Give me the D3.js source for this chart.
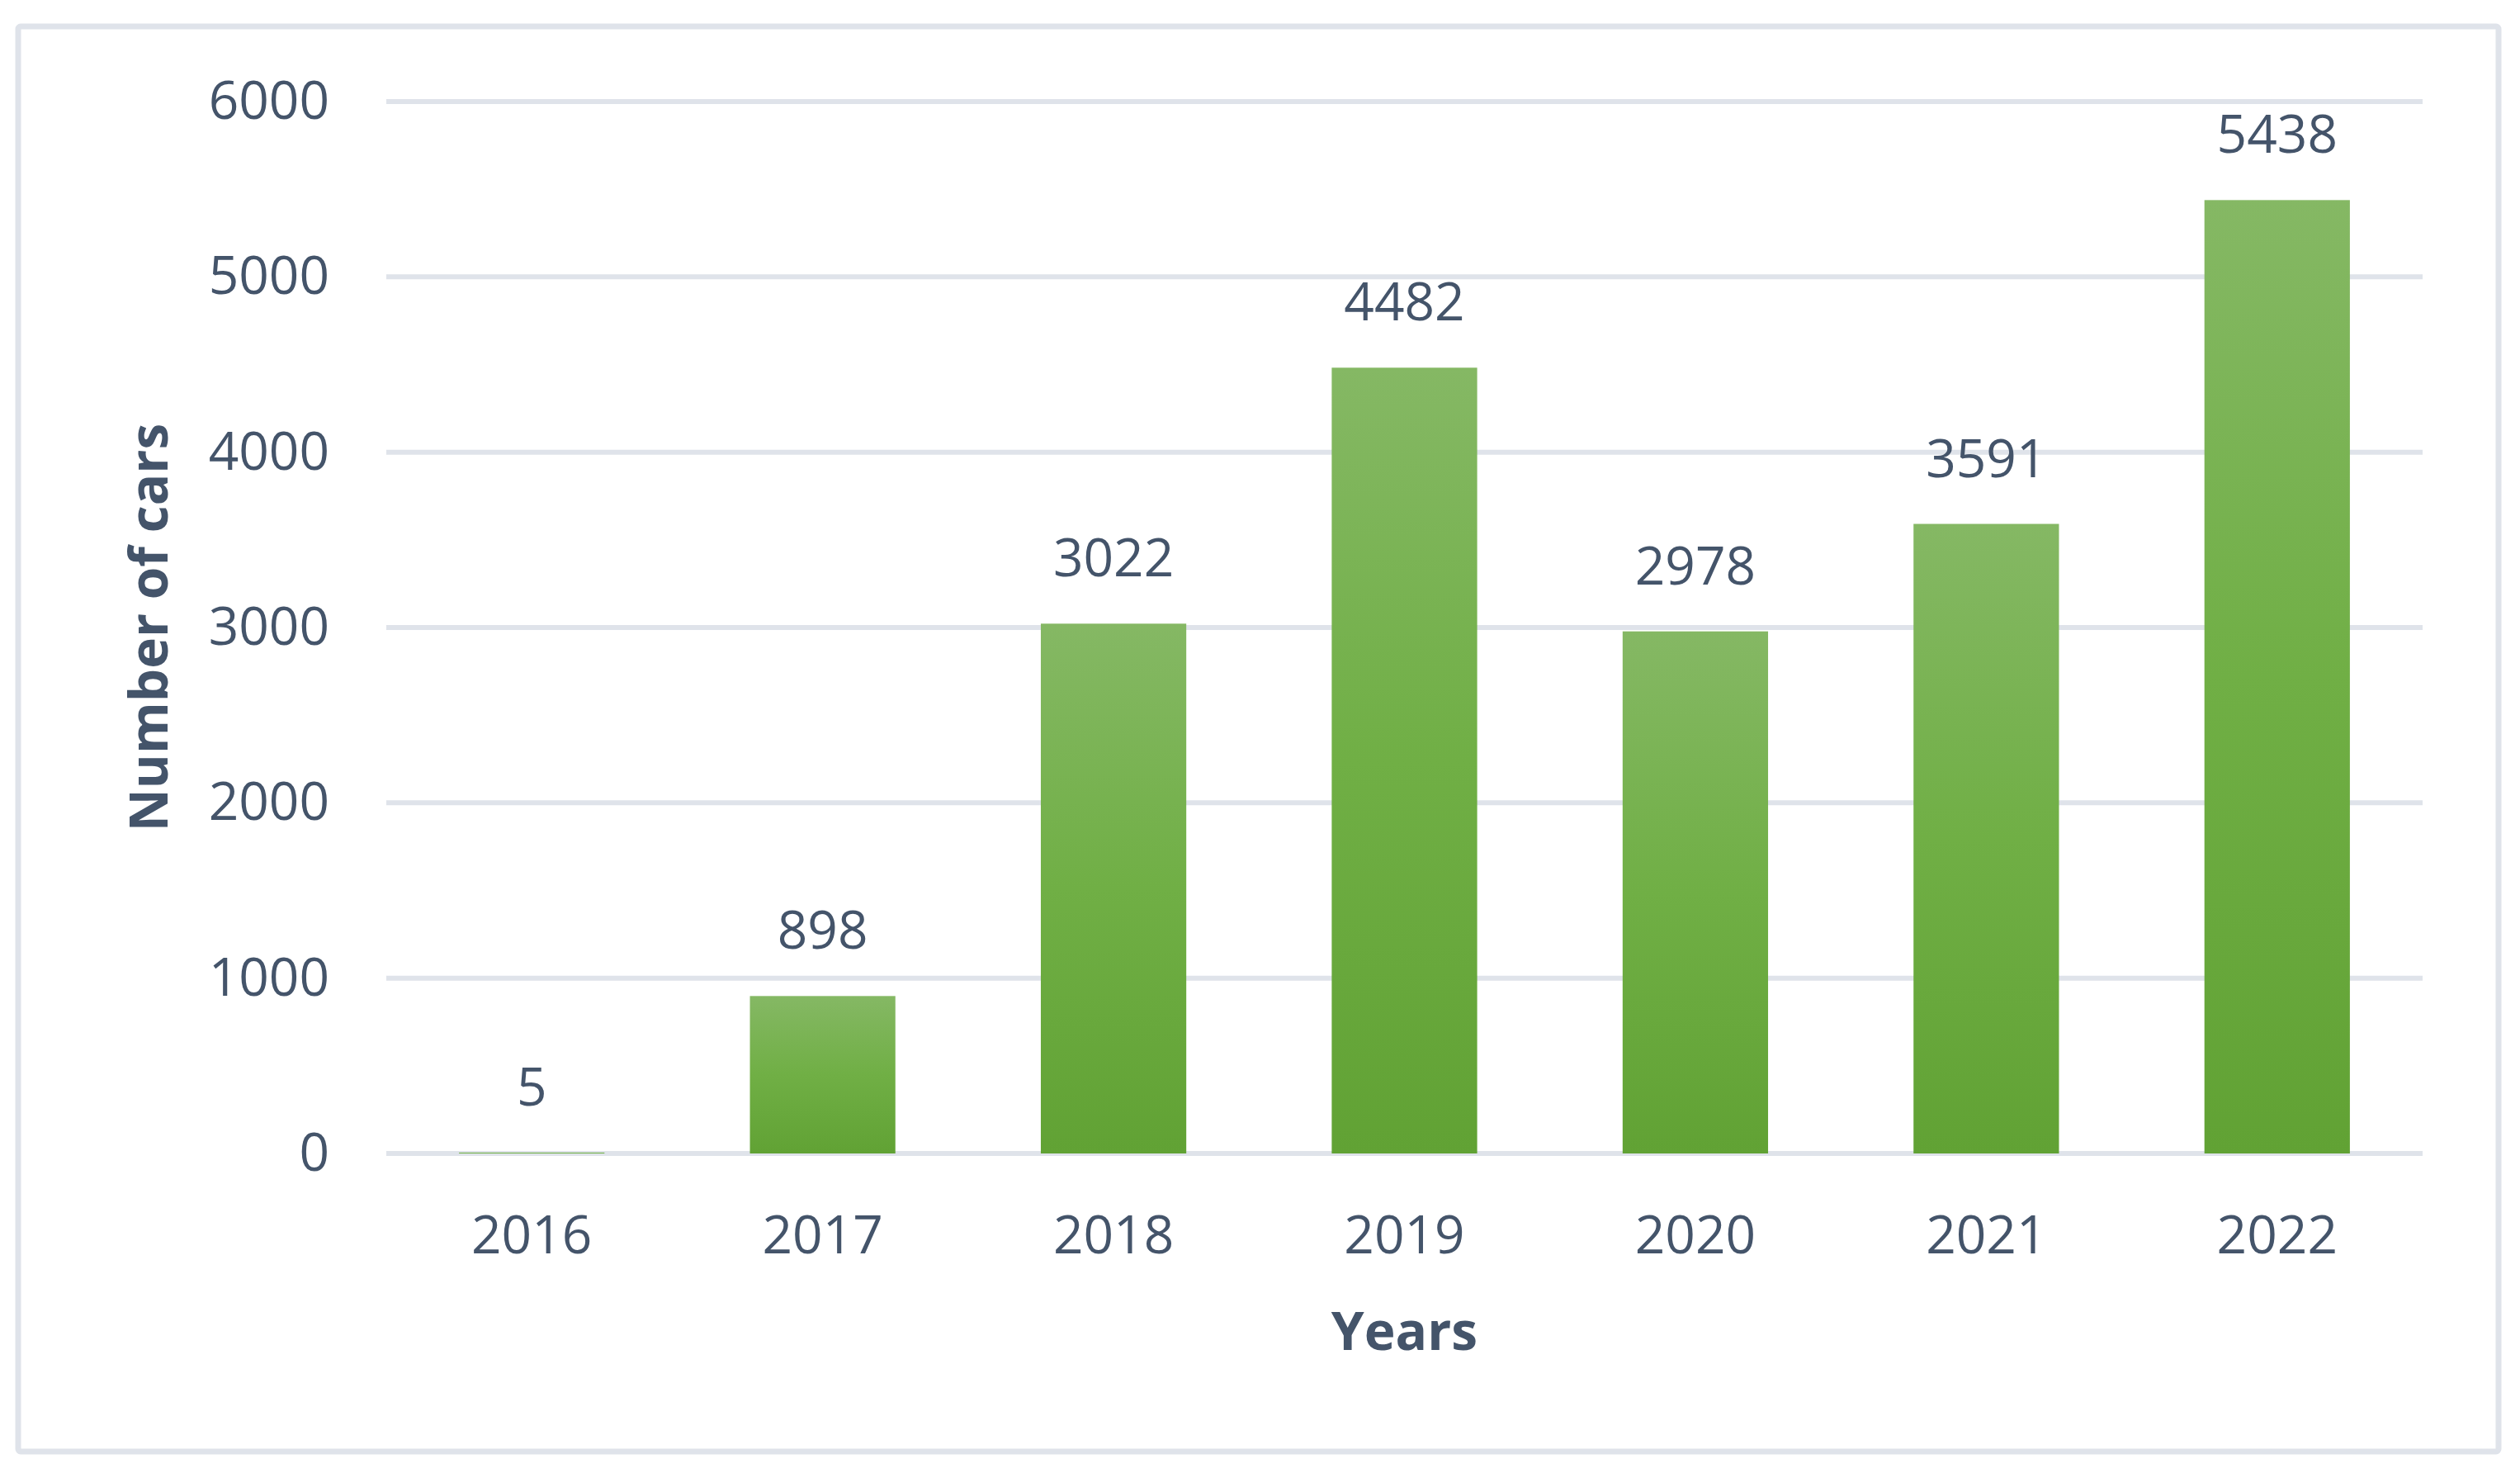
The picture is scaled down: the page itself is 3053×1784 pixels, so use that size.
<!DOCTYPE html>
<html>
<head>
<meta charset="utf-8">
<script src="https://cdn.jsdelivr.net/npm/d3@7"></script>
<style>
  body { margin: 0; background: #fff; }
  text { font-family: "Open Sans", "Noto Sans", sans-serif; fill: #44546a; }
</style>
</head>
<body>
<div id="chart"></div>
<script>
// data
var years = ["2016", "2017", "2018", "2019", "2020", "2021", "2022"];
var cars = [5, 898, 3022, 4482, 2978, 3591, 5438];
var yTicks = [0, 1000, 2000, 3000, 4000, 5000, 6000];

var W = 3053, H = 1784;
var margin = {top: 123, right: 118, bottom: 387, left: 468},
    width = W - margin.left - margin.right,
    height = H - margin.top - margin.bottom;

var svg = d3.select("#chart").append("svg")
    .attr("width", W)
    .attr("height", H);

// gradient for the bars, lighter at the top
var grad = svg.append("defs").append("linearGradient")
    .attr("id", "barGrad")
    .attr("x1", 0).attr("y1", 0).attr("x2", 0).attr("y2", 1);
grad.append("stop").attr("offset", "0%").attr("stop-color", "#85b864");
grad.append("stop").attr("offset", "50%").attr("stop-color", "#70af45");
grad.append("stop").attr("offset", "100%").attr("stop-color", "#61a234");

// outer frame
svg.append("rect")
    .attr("x", 22).attr("y", 32)
    .attr("width", 3005).attr("height", 1726)
    .attr("rx", 3)
    .attr("fill", "none")
    .attr("stroke", "#dfe3ea")
    .attr("stroke-width", 7);

var g = svg.append("g")
    .attr("transform", "translate(" + margin.left + "," + margin.top + ")");

var x = d3.scaleBand().domain(years).range([0, width]).paddingInner(0.5).paddingOuter(0.25);
var y = d3.scaleLinear().domain([0, 6000]).range([height, 0]);

// gridlines
g.selectAll(".grid")
    .data(yTicks)
  .enter().append("line")
    .attr("x1", 0).attr("x2", width)
    .attr("y1", function(d) { return y(d); })
    .attr("y2", function(d) { return y(d); })
    .attr("stroke", "#dfe3ea")
    .attr("stroke-width", 6);

// y axis labels
var yAxis = g.append("g")
    .attr("transform", "translate(-69,0)")
    .call(d3.axisLeft(y).tickValues(yTicks).tickFormat(d3.format("d")).tickSize(0).tickPadding(0));
yAxis.select(".domain").remove();
yAxis.selectAll("text")
    .attr("font-size", 64)
    .style("font-family", null);

// bars
g.selectAll(".bar")
    .data(cars)
  .enter().append("rect")
    .attr("x", function(d, i) { return x(years[i]); })
    .attr("width", x.bandwidth())
    .attr("y", function(d) { return y(d); })
    .attr("height", function(d) { return height - y(d); })
    .attr("fill", "url(#barGrad)");

// value labels
g.selectAll(".val")
    .data(cars)
  .enter().append("text")
    .attr("x", function(d, i) { return x(years[i]) + x.bandwidth() / 2; })
    .attr("y", function(d) { return y(d) - 57; })
    .attr("text-anchor", "middle")
    .attr("font-size", 64)
    .text(function(d) { return d; });

// x axis labels
var xAxis = g.append("g")
    .attr("transform", "translate(0," + (height + 76) + ")")
    .call(d3.axisBottom(x).tickSize(0).tickPadding(0));
xAxis.select(".domain").remove();
xAxis.selectAll("text")
    .attr("font-size", 64)
    .style("font-family", null);

// axis titles
g.append("text")
    .attr("x", width / 2)
    .attr("y", height + 238)
    .attr("text-anchor", "middle")
    .attr("font-size", 64)
    .attr("font-weight", "bold")
    .text("Years");

g.append("text")
    .attr("transform", "translate(" + (-265) + "," + (height / 2) + ") rotate(-90)")
    .attr("text-anchor", "middle")
    .attr("font-size", 64)
    .attr("font-weight", "bold")
    .text("Number of cars");
</script>
</body>
</html>
